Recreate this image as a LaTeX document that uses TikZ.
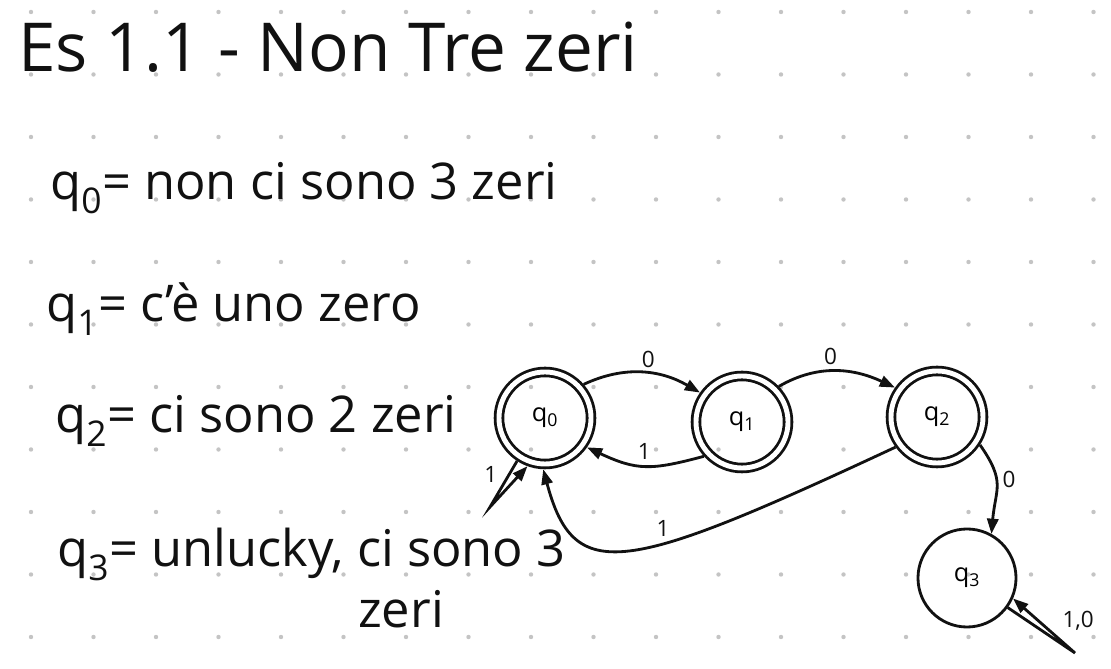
\documentclass[tikz,border=0pt]{standalone}
\usepackage{fontspec}
\setmainfont{Open Sans}
\usetikzlibrary{arrows.meta,positioning}
\definecolor{Ink}{HTML}{111111}
\definecolor{GridDot}{HTML}{C4C4C4}

\begin{document}
\begin{tikzpicture}[
  x=0.025cm, y=0.025cm,
  state/.style={
    circle,
    draw=Ink,
    line width=2pt,
    minimum size=2.45cm,
    inner sep=0pt,
    font=\fontsize{18}{20}\selectfont
  },
  finalstate/.style={state,minimum size=2.3cm,double,double distance=3.5pt,outer sep=3.75pt},
  edge/.style={-{Triangle[length=3.8mm,width=2.8mm]},line width=2pt,draw=Ink},
  lbl/.style={font=\fontsize{16}{18}\selectfont,text=Ink},
  note/.style={anchor=base west,inner sep=0pt,text=Ink,font=\fontsize{36}{40}\selectfont}
]
\useasboundingbox[fill=white] (0,0) rectangle (1111,669);
% dotted paper
\foreach \i in {0,...,17}
  \foreach \j in {0,...,10}
    \fill[GridDot] (31+62.5*\i,657-62.5*\j) circle[radius=2.2];

% notes
\node[note,font=\fontsize{48}{52}\selectfont] (title) at (18,597) {Es 1.1 - Non Tre zeri};
\node[note] (def0) at (50,469) {q\textsubscript{0}= non ci sono 3 zeri};
\node[note] (def1) at (46,347) {q\textsubscript{1}= c'è uno zero};
\node[note] (def2) at (55,236) {q\textsubscript{2}= ci sono 2 zeri};
\node[note] (def3) at (57,102) {q\textsubscript{3}= unlucky, ci sono 3};
\node[note] (def3b) at (358,41) {zeri};

% automaton
\node[finalstate] (q0) at (545,251) {q\textsubscript{0}};
\node[finalstate] (q1) at (742,247) {q\textsubscript{1}};
\node[finalstate] (q2) at (937,252) {q\textsubscript{2}};
\node[state] (q3) at (967,91) {q\textsubscript{3}};
\coordinate (q0tail) at (490,162);
\coordinate (q3tail) at (1075,16);

\draw[edge] (q0.41) to[out=25,in=150] node[lbl,above,pos=0.55] {0} (q1.145);
\draw[edge] (q1.222) to[out=195,in=-25,looseness=1.2] node[lbl,above] {1} (q0.-35);
\draw[edge] (q1.44) to[out=30,in=155] node[lbl,above,pos=0.45] {0} (q2.145);
\draw[edge] (q2.216) .. controls +(205:300) and +(285:120) .. node[lbl,above,pos=0.4] {1} (q0.268);
\draw[edge] (q2.-33) to[out=-55,in=85,looseness=1.3] node[lbl,right,pos=0.4] {0} (q3.61);
\draw[edge] (q0.237) -- node[lbl,left=4pt,pos=0.3] {1} (q0tail) -- (q0.250);
\draw[edge] (q3.-36) -- (q3tail) -- node[lbl,above right,pos=0.3] {1,0} (q3.-24);
\end{tikzpicture}
\end{document}
